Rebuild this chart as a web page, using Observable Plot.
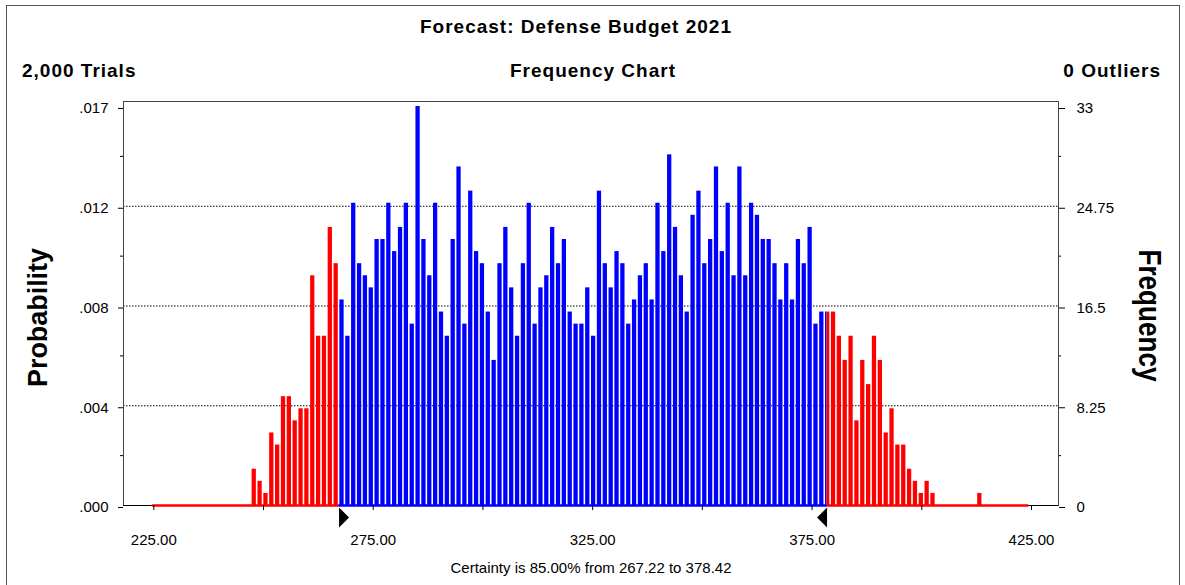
<!DOCTYPE html>
<html>
<head>
<meta charset="utf-8">
<script src="https://cdn.jsdelivr.net/npm/d3@7"></script>
<script src="https://cdn.jsdelivr.net/npm/@observablehq/plot@0.6"></script>
<style>
  body { margin: 0; background: #fff; }
</style>
</head>
<body>
<div id="chart"></div>
<script>
// 150 cells between 225 and 425, trial counts per cell (2,000 trials)
const rangeMin = 225;
const rangeMax = 425;
const frequency = [
    0, 0, 0, 0, 0, 0, 0, 0, 0, 0, 0, 0, 0, 0, 0, 0, 0,
    3, 2, 1, 6, 5, 9, 9, 7, 8, 8, 19, 14, 14, 23, 20,
    17, 14, 25, 20, 19, 18, 22, 22, 25, 21, 23, 25, 15, 33, 22, 19, 25, 16, 14, 22, 28, 15, 26, 21, 20, 16,
    12, 20, 23, 18, 14, 20, 25, 15, 18, 19, 23, 20, 22, 16, 15, 15, 18, 14, 26, 20, 18,
    21, 20, 15, 17, 19, 20, 17, 25, 21, 29, 23, 19, 16, 24, 26, 20, 22, 28, 21, 25, 19,
    28, 19, 25, 24, 22, 22, 20, 17, 20, 17, 22, 20, 23, 15, 16,
    16, 16, 14, 12, 14, 7, 12, 10, 14, 12, 6, 8, 5, 5, 3, 2, 1, 2, 1,
    0, 0, 0, 0, 0, 0, 0,
    1,
    0, 0, 0, 0, 0, 0, 0, 0
];
const certaintyLow = 267.22;
const certaintyHigh = 378.42;

const xTicks = [225, 250, 275, 300, 325, 350, 375, 400, 425];
const xTickLabels = ["225.00", "", "275.00", "", "325.00", "", "375.00", "", "425.00"];
const yTicks = [0, 8.25, 16.5, 24.75, 33];
const yMinorTicks = [4.125, 12.375, 20.625, 28.875];
const probabilityLabels = [".000", ".004", ".008", ".012", ".017"];
const frequencyLabels = ["0", "8.25", "16.5", "24.75", "33"];

const red = "#ff0000";
const blue = "#0000ff";
const cellWidth = (rangeMax - rangeMin) / frequency.length;

// split each bar at the certainty bounds (blue inside, red outside)
const pieces = [];
frequency.forEach((count, i) => {
    if (!count) return;
    const lo = rangeMin + i * cellWidth;
    const a = lo - 0.2 * cellWidth;
    const b = lo + 0.53 * cellWidth;
    if (a < certaintyLow)
        pieces.push({ x1: a, x2: Math.min(b, certaintyLow), count, color: red });
    if (b > certaintyLow && a < certaintyHigh)
        pieces.push({ x1: Math.max(a, certaintyLow), x2: Math.min(b, certaintyHigh), count, color: blue });
    if (b > certaintyHigh)
        pieces.push({ x1: Math.max(a, certaintyHigh), x2: b, count, color: red });
});

const baseline = [
    { x1: rangeMin - 0.2 * cellWidth, x2: certaintyLow, color: red },
    { x1: certaintyLow, x2: certaintyHigh, color: blue },
    { x1: certaintyHigh, x2: rangeMax - 0.47 * cellWidth, color: red },
];

// certainty grabbers under the axis
const grabRight = {
    draw(ctx) { ctx.moveTo(0, 2); ctx.lineTo(0, 22); ctx.lineTo(10, 12); ctx.closePath(); }
};
const grabLeft = {
    draw(ctx) { ctx.moveTo(0, 2); ctx.lineTo(0, 22); ctx.lineTo(-10, 12); ctx.closePath(); }
};

const chart = Plot.plot({
    width: 1185,
    height: 585,
    marginLeft: 123,
    marginRight: 127,
    marginTop: 101,
    marginBottom: 80,
    style: { fontFamily: "'Liberation Sans', Arial, sans-serif", fontSize: "15px", background: "#fff", color: "#000" },
    x: { domain: [rangeMin, rangeMax], range: [153.3, 1031] },
    y: { domain: [0, 33], range: [505, 106] },
    marks: [
        Plot.ruleY([8.25, 16.5, 24.75], { stroke: "#000", strokeDasharray: "1.5,1.5" }),
        Plot.frame({ stroke: "#444" }),
        Plot.rect(pieces, { x1: "x1", x2: "x2", y1: 0, y2: "count", fill: "color" }),
        Plot.ruleY([0], { stroke: "#000" }),
        Plot.ruleY(baseline, { x1: "x1", x2: "x2", y: 0, stroke: "color", strokeWidth: 2.5 }),
        Plot.axisY({ anchor: "left", ticks: yTicks, tickSize: 5, tickPadding: 10, dy: 2,
            tickFormat: (d) => probabilityLabels[yTicks.indexOf(d)], label: null, fontSize: 15 }),
        Plot.axisY({ anchor: "left", ticks: yMinorTicks, tickSize: 3, tickFormat: () => "", label: null }),
        Plot.axisY({ anchor: "right", ticks: yTicks, tickSize: 6, tickPadding: 12, dy: 2,
            tickFormat: (d) => frequencyLabels[yTicks.indexOf(d)], label: null, fontSize: 15 }),
        Plot.axisY({ anchor: "right", ticks: yMinorTicks, tickSize: 2, tickFormat: () => "", label: null }),
        Plot.axisX({ anchor: "bottom", ticks: xTicks, tickSize: 5, tickPadding: 24,
            tickFormat: (d) => xTickLabels[xTicks.indexOf(d)], label: null, fontSize: 15 }),
        Plot.dot([certaintyLow], { x: (d) => d, y: 0, symbol: grabRight, fill: "#000", stroke: null }),
        Plot.dot([certaintyHigh], { x: (d) => d, y: 0, symbol: grabLeft, fill: "#000", stroke: null }),
    ],
});

const svg = d3.select(chart);
svg.append("rect")
    .attr("x", 6.5).attr("y", 5.5).attr("width", 1173).attr("height", 600)
    .attr("fill", "none").attr("stroke", "#555");

const header = (text, x, y, anchor) =>
    svg.append("text")
        .attr("x", x).attr("y", y)
        .attr("text-anchor", anchor)
        .attr("font-weight", "bold")
        .attr("font-size", 19)
        .attr("letter-spacing", 1)
        .text(text);

header("Forecast: Defense Budget 2021", 576, 33, "middle");
header("2,000 Trials", 22, 77, "start");
header("Frequency Chart", 593, 77, "middle");
header("0 Outliers", 1161, 77, "end");

svg.append("text")
    .attr("transform", "translate(46.5,317.5) rotate(-90)")
    .attr("text-anchor", "middle")
    .attr("font-weight", "bold")
    .attr("font-size", 28)
    .attr("textLength", 139)
    .attr("lengthAdjust", "spacingAndGlyphs")
    .text("Probability");

svg.append("text")
    .attr("transform", "translate(1138.5,315.5) rotate(90)")
    .attr("text-anchor", "middle")
    .attr("font-weight", "bold")
    .attr("font-size", 31)
    .attr("textLength", 132)
    .attr("lengthAdjust", "spacingAndGlyphs")
    .text("Frequency");

svg.append("text")
    .attr("x", 591).attr("y", 572.5)
    .attr("text-anchor", "middle")
    .attr("font-size", 15)
    .text("Certainty is 85.00% from 267.22 to 378.42");

document.getElementById("chart").append(chart);
</script>
</body>
</html>
